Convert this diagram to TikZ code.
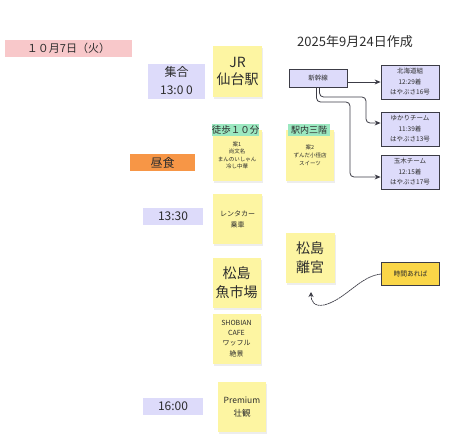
\documentclass[tikz,border=0pt]{standalone}
\usepackage{fontspec}
\setmainfont{Noto Sans CJK JP}
\usetikzlibrary{arrows.meta}
\definecolor{sticky}{RGB}{253,245,162}
\definecolor{lav}{RGB}{221,219,250}
\definecolor{pinkc}{RGB}{248,200,202}
\definecolor{orangec}{RGB}{247,150,70}
\definecolor{mint}{RGB}{155,232,192}
\definecolor{gold}{RGB}{250,214,72}
\definecolor{txt}{RGB}{45,45,45}
\definecolor{edge}{RGB}{60,60,70}
\begin{document}
\begin{tikzpicture}[x=1pt,y=-1pt,
  every node/.style={text=txt, inner sep=0pt, align=center},
  stickynote/.style={fill=sticky, minimum width=49pt, minimum height=51pt,
    preaction={fill=black, opacity=0.07, transform canvas={xshift=1pt,yshift=-2pt}}},
  lavlabel/.style={fill=lav, minimum width=60pt, minimum height=17pt, font=\fontsize{12}{14}\selectfont},
  greenlabel/.style={fill=mint, minimum height=12pt},
  trainbox/.style={fill=lav, draw=edge, line width=0.8pt, minimum width=58pt},
  flow/.style={draw=edge, line width=0.8pt, rounded corners=4pt, -{Stealth[length=6pt,width=5pt]}},
]
\useasboundingbox (0,0) rectangle (475,434);

% left column labels
\node[fill=pinkc, minimum width=127pt, minimum height=17pt, font=\fontsize{11}{13}\selectfont] (date) at (68.5,48.5) {１０月7日（火）};
\node[fill=lav, minimum width=57pt, minimum height=35pt, font=\fontsize{12}{18}\selectfont] (meet) at (176.5,81) {集合\\13:0 0};
\node[fill=orangec, minimum width=65pt, minimum height=17pt, font=\fontsize{12}{14}\selectfont] (lunch) at (162.5,162.5) {昼食};
\node[lavlabel] (t1330) at (173,216.5) {13:30};
\node[lavlabel] (t1600) at (173,406.5) {16:00};

% title
\node[font=\fontsize{13}{15}\selectfont] (title) at (355,42) {2025年9月24日作成};

% sticky notes
\node[stickynote, font=\fontsize{14}{17}\selectfont] (jr) at (237.5,71.5) {JR\\仙台駅};
\node[stickynote, font=\fontsize{5.5}{7.5}\selectfont] (plan1) at (237,155.5) {案1\\尚文名\\まんのいしゃん\\冷し中華};
\node[greenlabel, minimum width=47pt, font=\fontsize{9.5}{11}\selectfont] (walk) at (235.5,130) {徒歩１０分};
\node[stickynote, minimum width=48pt, font=\fontsize{5.5}{8}\selectfont] (plan2) at (310,155.5) {案2\\ずんだ小径店\\スイーツ};
\node[greenlabel, minimum width=42pt, font=\fontsize{9}{11}\selectfont] (floor) at (309,130) {駅内三階};
\node[stickynote, minimum height=50pt, font=\fontsize{7}{11}\selectfont] (car) at (237.5,219) {レンタカー\\乗車};
\node[stickynote, minimum height=50pt, font=\fontsize{14}{19}\selectfont] (rikyu) at (310,258) {松島\\離宮};
\node[stickynote, minimum width=48pt, minimum height=50pt, font=\fontsize{14}{19}\selectfont] (fish) at (236.5,282.5) {松島\\魚市場};
\node[stickynote, minimum width=48pt, minimum height=50pt, font=\fontsize{7}{10.3}\selectfont] (cafe) at (236.5,338.5) {SHOBIAN\\CAFE\\ワッフル\\絶景};
\node[stickynote, minimum width=48pt, minimum height=50pt, font=\fontsize{8.5}{12.7}\selectfont] (prem) at (242,407) {Premium\\壮観};

% shinkansen
\node[trainbox, minimum height=18pt, font=\fontsize{6.5}{8}\selectfont] (shin) at (318,78.5) {新幹線};
\node[trainbox, minimum height=34pt, font=\fontsize{6.5}{10.5}\selectfont] (hok) at (410,82) {北海道組\\12:29着\\はやぶさ16号};
\node[trainbox, minimum height=34pt, font=\fontsize{6.5}{10.5}\selectfont] (yuk) at (410,129) {ゆかりチーム\\11:39着\\はやぶさ13号};
\node[trainbox, minimum height=34pt, font=\fontsize{6.5}{10.5}\selectfont] (tam) at (410,172) {玉木チーム\\12:15着\\はやぶさ17号};

\coordinate (sA) at ([xshift=1.5pt]shin.south);
\coordinate (sB) at ([xshift=-1.5pt]shin.south);
\draw[flow] (shin.east |- hok.west) -- (hok.west);
\draw[flow] (sA) -- (sA |- 0,97) -- (366,97) -- (366,123) -- (yuk.west |- 0,123);
\draw[flow] (sB) -- (sB |- 0,102) -- (350,102) -- (350,177) -- (tam.west |- 0,177);

% optional
\node[fill=gold, draw=edge, line width=0.8pt, minimum width=58pt, minimum height=23pt, font=\fontsize{6.8}{8}\selectfont] (opt) at (410.5,274) {時間あれば};
\coordinate (optend) at (311,292);
\draw[draw=edge, line width=0.7pt, densely dashed, dash pattern=on 2pt off 0.5pt, -{Stealth[length=5pt,width=5pt]}]
  (opt.west) .. controls (360,276) and (345,300) .. (324,305) .. controls (314,307) and (311,301) .. (optend);
\end{tikzpicture}
\end{document}
